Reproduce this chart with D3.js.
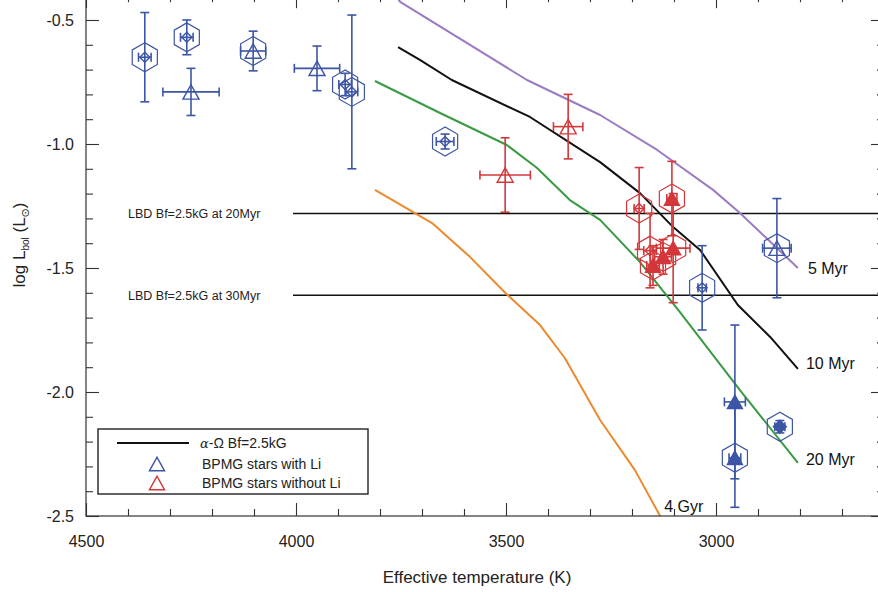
<!DOCTYPE html>
<html>
<head>
<meta charset="utf-8">
<script src="https://cdn.jsdelivr.net/npm/d3@7/dist/d3.min.js"></script>
<style>
  html, body { margin: 0; padding: 0; background: #fff; }
  svg { display: block; font-family: "Liberation Sans", Arial, Helvetica, sans-serif; }
</style>
</head>
<body>
<svg id="chart" width="878" height="592"></svg>
<script>
// ---- Axis ticks ----
const xMajorTicks = [4500, 4000, 3500, 3000];
const xMinorTicks = [4400, 4300, 4200, 4100, 3900, 3800, 3700, 3600, 3400, 3300, 3200, 3100, 2900, 2800, 2700];
const yMajorTicks = [-0.5, -1.0, -1.5, -2.0, -2.5];
const yMinorTicks = [-0.6, -0.7, -0.8, -0.9, -1.1, -1.2, -1.3, -1.4, -1.6, -1.7, -1.8, -1.9, -2.1, -2.2, -2.3, -2.4];

// ---- Isochrones (Teff, log L) ----
const iso5Myr = [[3770, -0.38], [3752, -0.427], [3450, -0.742], [3276, -0.883], [3140, -1.024], [3007, -1.185], [2943, -1.278], [2805, -1.500]];
const iso10Myr = [[3757, -0.609], [3705, -0.661], [3629, -0.742], [3443, -0.891], [3276, -1.073], [3181, -1.198], [3102, -1.335], [3038, -1.427], [2948, -1.649], [2871, -1.778], [2805, -1.907]];
const iso20Myr = [[3812, -0.746], [3657, -0.875], [3498, -1.004], [3426, -1.097], [3348, -1.226], [3276, -1.306], [3181, -1.476], [3090, -1.669], [2943, -1.992], [2805, -2.286]];
const iso4Gyr = [[3812, -1.185], [3676, -1.319], [3586, -1.455], [3502, -1.600], [3419, -1.730], [3360, -1.863], [3276, -2.113], [3193, -2.315], [3133, -2.500], [3120, -2.56]];
const isoLabels = ["5 Myr", "10 Myr", "20 Myr", "4 Gyr"];

// ---- Lithium-burning depletion levels ----
const lbdLevels = [-1.28, -1.61];
const lbdLabels = ["LBD Bf=2.5kG at 20Myr", "LBD Bf=2.5kG at 30Myr"];

// ---- BPMG stars with Li: Teff, log L, Teff error, log L error, hexagon, marker ----
const liTeff   = [4360, 4260, 4250, 4102, 3950, 3883, 3867, 3645, 3033, 2855, 2955, 2955, 2848];
const liLum    = [-0.65, -0.57, -0.79, -0.625, -0.695, -0.76, -0.79, -0.99, -1.58, -1.42, -2.04, -2.265, -2.14];
const liTErr   = [15, 15, 67, 30, 54, 15, 14, 21, 10, 34, 25, 14, 12];
const liLErr   = [0.18, 0.07, 0.095, 0.08, 0.09, 0.045, 0.31, 0.03, 0.17, 0.2, 0.31, 0.2, 0.025];
const liHex    = [true, true, false, true, false, true, true, true, true, true, false, true, true];
const liMarker = ["diamond", "diamond", "triangle", "triangle", "triangle", "diamond", "diamond", "diamond", "diamond", "triangle", "triangleFilled", "triangleFilled", "diamondFilled"];

// ---- BPMG stars without Li ----
const noLiTeff   = [3502, 3352, 3183, 3105, 3157, 3150, 3126, 3102];
const noLiLum    = [-1.125, -0.93, -1.26, -1.22, -1.43, -1.49, -1.455, -1.42];
const noLiTErr   = [60, 35, 12, 12, 15, 15, 20, 40];
const noLiLErr   = [0.15, 0.13, 0.165, 0.15, 0.15, 0.08, 0.07, 0.22];
const noLiHex    = [false, false, true, true, true, true, true, true];
const noLiMarker = ["triangle", "triangle", "diamond", "triangleFilled", "diamond", "triangleFilled", "triangleFilled", "triangleFilled"];

const legendLabels = ["Bf=2.5kG", "BPMG stars with Li", "BPMG stars without Li"];

const blue = "#3c55a5";
const red = "#d3373a";
const colors = { iso5: "#9a7bc4", iso10: "#111", iso20: "#3a9a43", iso4g: "#eb8a2e" };

const svg = d3.select("#chart");
const x = d3.scaleLinear().domain([4500, 2600]).range([86, 884]);
const y = d3.scaleLinear().domain([-2.5, -0.4]).range([516, 516 - 2.1 * 248]);
const [x0, x1] = x.range();
const [yb, yt] = y.range();

svg.append("clipPath").attr("id", "plotClip")
  .append("rect").attr("x", x0).attr("y", yt).attr("width", x1 - x0).attr("height", yb - yt);

const plot = svg.append("g").attr("clip-path", "url(#plotClip)");

// LBD horizontal lines with labels
lbdLevels.forEach((v, i) => {
  plot.append("line")
    .attr("x1", 293).attr("x2", x1)
    .attr("y1", y(v)).attr("y2", y(v))
    .attr("stroke", "#111").attr("stroke-width", 1.5);
  svg.append("text")
    .attr("x", 128).attr("y", y(v)).attr("dy", "0.35em")
    .attr("font-size", 12.5).attr("fill", "#222")
    .text(lbdLabels[i]);
});

// Isochrones (linear interpolation between model points)
const line = d3.line().x(d => x(d[0])).y(d => y(d[1])).curve(d3.curveLinear);
[[iso5Myr, colors.iso5], [iso10Myr, colors.iso10], [iso20Myr, colors.iso20], [iso4Gyr, colors.iso4g]]
  .forEach(([data, c]) => {
    plot.append("path").datum(data)
      .attr("d", line).attr("fill", "none")
      .attr("stroke", c).attr("stroke-width", 2)
      .attr("stroke-linejoin", "round");
  });

// Isochrone labels at their cool ends
const isoLabelPos = [
  [iso5Myr[iso5Myr.length - 1], 10, 0],
  [iso10Myr[iso10Myr.length - 1], 8, -6],
  [iso20Myr[iso20Myr.length - 1], 8, -4],
  [[3133, -2.5], 4, -10]
];
isoLabelPos.forEach(([p, dx, dy], i) => {
  svg.append("text")
    .attr("x", x(p[0]) + dx).attr("y", y(p[1]) + dy).attr("dy", "0.35em")
    .attr("font-size", 16).attr("fill", "#111")
    .text(isoLabels[i]);
});

// Star symbols
function hexPath(r) {
  const pts = d3.range(6).map(k => {
    const a = Math.PI / 2 + k * Math.PI / 3;
    return [r * Math.cos(a), -r * Math.sin(a)];
  });
  return "M" + pts.map(p => p.join(",")).join("L") + "Z";
}
function triPath(s) {
  const h = s * 0.9;
  return `M0,${-h / 2}L${s / 2},${h / 2}L${-s / 2},${h / 2}Z`;
}
function diaPath(s) {
  return `M0,${-s}L${s},0L0,${s}L${-s},0Z`;
}

function drawStars(teff, lum, tErr, lErr, hex, marker, color) {
  const g = plot.append("g");
  teff.forEach((t, i) => {
    const cx = x(t), cy = y(lum[i]);
    const xa = x(t + tErr[i]), xb = x(t - tErr[i]);
    const ya = y(lum[i] + lErr[i]), yb2 = y(lum[i] - lErr[i]);
    const cap = 4.5;
    const eb = g.append("g").attr("stroke", color).attr("stroke-width", 1.6).attr("fill", "none");
    eb.append("line").attr("x1", cx).attr("x2", cx).attr("y1", ya).attr("y2", yb2);
    eb.append("line").attr("x1", cx - cap).attr("x2", cx + cap).attr("y1", ya).attr("y2", ya);
    eb.append("line").attr("x1", cx - cap).attr("x2", cx + cap).attr("y1", yb2).attr("y2", yb2);
    eb.append("line").attr("x1", xa).attr("x2", xb).attr("y1", cy).attr("y2", cy);
    eb.append("line").attr("x1", xa).attr("x2", xa).attr("y1", cy - cap).attr("y2", cy + cap);
    eb.append("line").attr("x1", xb).attr("x2", xb).attr("y1", cy - cap).attr("y2", cy + cap);

    const m = marker[i];
    let d, filled = false;
    if (m === "triangle") d = triPath(16);
    else if (m === "triangleFilled") { d = triPath(15); filled = true; }
    else if (m === "diamond") d = diaPath(5);
    else { d = diaPath(6.5); filled = true; }
    g.append("path").attr("d", d)
      .attr("transform", `translate(${cx},${cy})`)
      .attr("fill", filled ? color : "none")
      .attr("stroke", color).attr("stroke-width", 1.4);

    if (hex[i]) {
      g.append("path").attr("d", hexPath(14.5))
        .attr("transform", `translate(${cx},${cy})`)
        .attr("fill", "none").attr("stroke", color).attr("stroke-width", 1.2);
    }
  });
}
drawStars(liTeff, liLum, liTErr, liLErr, liHex, liMarker, blue);
drawStars(noLiTeff, noLiLum, noLiTErr, noLiLErr, noLiHex, noLiMarker, red);

// Frame
svg.append("rect").attr("x", x0).attr("y", yt).attr("width", x1 - x0).attr("height", yb - yt)
  .attr("fill", "none").attr("stroke", "#333").attr("stroke-width", 1.2);

// Axes: ticks drawn inward on all four sides
const axisColor = "#333";
function styleAxis(g) {
  g.select(".domain").remove();
  g.selectAll(".tick line").attr("stroke", axisColor).attr("stroke-width", 1.1);
  g.selectAll(".tick text").attr("fill", "#222").attr("font-size", 16)
    .attr("font-family", "'Liberation Sans', Arial, sans-serif");
}
svg.append("g").attr("transform", `translate(0,${yb})`)
  .call(d3.axisBottom(x).tickValues(xMajorTicks).tickSize(-13).tickPadding(20).tickFormat(d => String(d)))
  .call(styleAxis);
svg.append("g").attr("transform", `translate(0,${yb})`)
  .call(d3.axisBottom(x).tickValues(xMinorTicks).tickSize(-7).tickFormat(""))
  .call(styleAxis);
svg.append("g").attr("transform", `translate(0,${yt})`)
  .call(d3.axisTop(x).tickValues(xMajorTicks).tickSize(-13).tickFormat(""))
  .call(styleAxis);
svg.append("g").attr("transform", `translate(0,${yt})`)
  .call(d3.axisTop(x).tickValues(xMinorTicks).tickSize(-7).tickFormat(""))
  .call(styleAxis);
svg.append("g").attr("transform", `translate(${x0},0)`)
  .call(d3.axisLeft(y).tickValues(yMajorTicks).tickSize(-13).tickPadding(12).tickFormat(d => d.toFixed(1)))
  .call(styleAxis);
svg.append("g").attr("transform", `translate(${x0},0)`)
  .call(d3.axisLeft(y).tickValues(yMinorTicks).tickSize(-7).tickFormat(""))
  .call(styleAxis);
svg.append("g").attr("transform", `translate(${x1},0)`)
  .call(d3.axisRight(y).tickValues(yMajorTicks).tickSize(-13).tickFormat(""))
  .call(styleAxis);
svg.append("g").attr("transform", `translate(${x1},0)`)
  .call(d3.axisRight(y).tickValues(yMinorTicks).tickSize(-7).tickFormat(""))
  .call(styleAxis);

// Axis titles
svg.append("text")
  .attr("x", 477).attr("y", 583)
  .attr("text-anchor", "middle").attr("font-size", 17).attr("fill", "#222")
  .text("Effective temperature (K)");

const yt2 = svg.append("text")
  .attr("transform", "translate(25,245) rotate(-90)")
  .attr("text-anchor", "middle").attr("font-size", 17).attr("fill", "#222");
yt2.append("tspan").text("log L");
yt2.append("tspan").attr("font-size", 10).attr("dy", 4).text("bol");
yt2.append("tspan").attr("dy", -4).text(" (L");
yt2.append("tspan").attr("font-size", 11).attr("dy", 4).attr("font-family", "'DejaVu Sans', sans-serif").text("\u2299");
yt2.append("tspan").attr("dy", -4).text(")");

// Legend
const lg = svg.append("g");
lg.append("rect").attr("x", 98).attr("y", 429).attr("width", 270).attr("height", 65)
  .attr("fill", "#fff").attr("stroke", "#222").attr("stroke-width", 1.4);
lg.append("line").attr("x1", 117).attr("x2", 189).attr("y1", 443).attr("y2", 443)
  .attr("stroke", "#111").attr("stroke-width", 2);
const lt = lg.append("text").attr("x", 200).attr("y", 443).attr("dy", "0.35em")
  .attr("font-size", 14).attr("fill", "#222");
lt.append("tspan").attr("font-style", "italic").attr("font-family", "'DejaVu Serif', serif").attr("font-size", 13).text("\u03b1");
lt.append("tspan").text("-\u03a9 " + legendLabels[0]);
[[blue, 464, legendLabels[1]], [red, 483, legendLabels[2]]].forEach(([c, yy, label]) => {
  lg.append("path").attr("d", triPath(15)).attr("transform", `translate(157,${yy})`)
    .attr("fill", "none").attr("stroke", c).attr("stroke-width", 1.5);
  lg.append("text").attr("x", 202).attr("y", yy).attr("dy", "0.35em")
    .attr("font-size", 14).attr("fill", "#222").text(label);
});
</script>
</body>
</html>
